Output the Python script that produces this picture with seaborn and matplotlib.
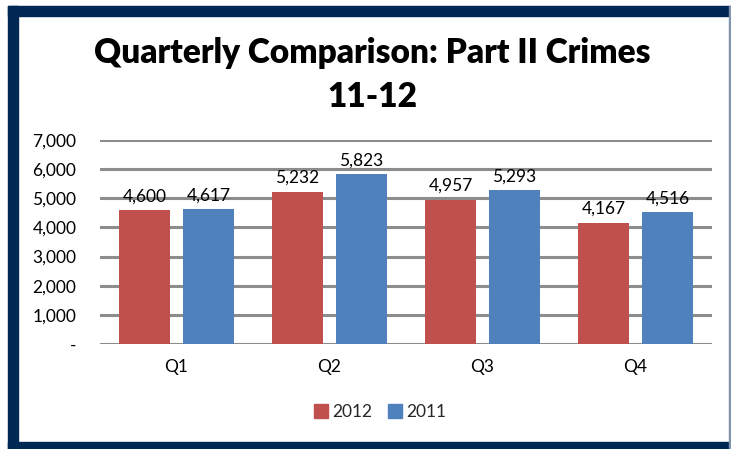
import matplotlib
matplotlib.use("Agg")
import matplotlib.pyplot as plt
import seaborn as sns
import pandas as pd
from matplotlib.patches import Rectangle

quarters = ["Q1", "Q2", "Q3", "Q4"]
years = ["2012", "2011"]
values_2012 = [4600, 5232, 4957, 4167]
values_2011 = [4617, 5823, 5293, 4516]
yticks = [0, 1000, 2000, 3000, 4000, 5000, 6000, 7000]
ytick_labels = ["-", "1,000", "2,000", "3,000", "4,000", "5,000", "6,000", "7,000"]
title_text = "Quarterly Comparison: Part II Crimes\n11-12"

df = pd.DataFrame({
    "Quarter": quarters * 2,
    "Year": [years[0]] * 4 + [years[1]] * 4,
    "Value": values_2012 + values_2011,
})

sns.set_theme(style="white")
plt.rcParams["font.family"] = ["Lato", "DejaVu Sans"]

W, H = 731, 449
fig = plt.figure(figsize=(W / 100, H / 100), dpi=100)
fig.patch.set_facecolor("white")

ax = fig.add_axes([100 / W, 1 - 344 / H, 612 / W, 204 / H])
palette = {"2012": "#C0504D", "2011": "#4F81BD"}
sns.barplot(data=df, x="Quarter", y="Value", hue="Year", hue_order=years,
            palette=palette, width=0.836, gap=0.2, saturation=1,
            linewidth=0, edgecolor="none",
            legend=False, ax=ax, zorder=3)

FS = 12.5
ax.set_ylim(0, 7000)
ax.set_xlim(-0.5, 3.5)
ax.set_yticks(yticks)
ax.set_yticklabels(ytick_labels)
for y in yticks:
    ax.axhline(y, color="#8C8C8C", lw=2.2, zorder=1)
for s in ax.spines.values():
    s.set_visible(False)
ax.set_xlabel("")
ax.set_ylabel("")
ax.tick_params(axis="y", length=0, pad=17, labelsize=FS, labelcolor="black")
ax.tick_params(axis="x", length=0, pad=11, labelsize=FS, labelcolor="black")
for lab in ax.get_yticklabels():
    lab.set_horizontalalignment("right")

for cont in ax.containers:
    ax.bar_label(cont, labels=[f"{int(v.get_height()):,}" for v in cont],
                 padding=4, fontsize=FS, color="black")

# legend
handles = [Rectangle((0, 0), 1, 1, color=palette[y]) for y in years]
fig.legend(handles, years, loc="center", bbox_to_anchor=(380 / W, 1 - 412 / H),
           ncol=2, frameon=False, fontsize=FS, handlelength=0.8, handleheight=0.8,
           handletextpad=0.25, columnspacing=0.9)

fig.text(372 / W, 1 - 75 / H, title_text, ha="center", va="center",
         fontsize=24, fontweight="heavy", linespacing=1.45, color="black")

# border
navy = "#002855"
fig.patches.append(Rectangle((8 / W, 0), 10 / W, 1 - 6 / H, transform=fig.transFigure,
                             color=navy, zorder=10))
fig.patches.append(Rectangle((8 / W, 1 - 16 / H), 1 - 8 / W, 10 / H, transform=fig.transFigure,
                             color=navy, zorder=10))
fig.patches.append(Rectangle((8 / W, 0), 1 - 8 / W, 7 / H, transform=fig.transFigure,
                             color=navy, zorder=10))
fig.patches.append(Rectangle((729 / W, 0), 1.5 / W, 1 - 6 / H, transform=fig.transFigure,
                             color="#7F93AD", zorder=10))

fig.savefig("out.png", dpi=100, facecolor="white")
